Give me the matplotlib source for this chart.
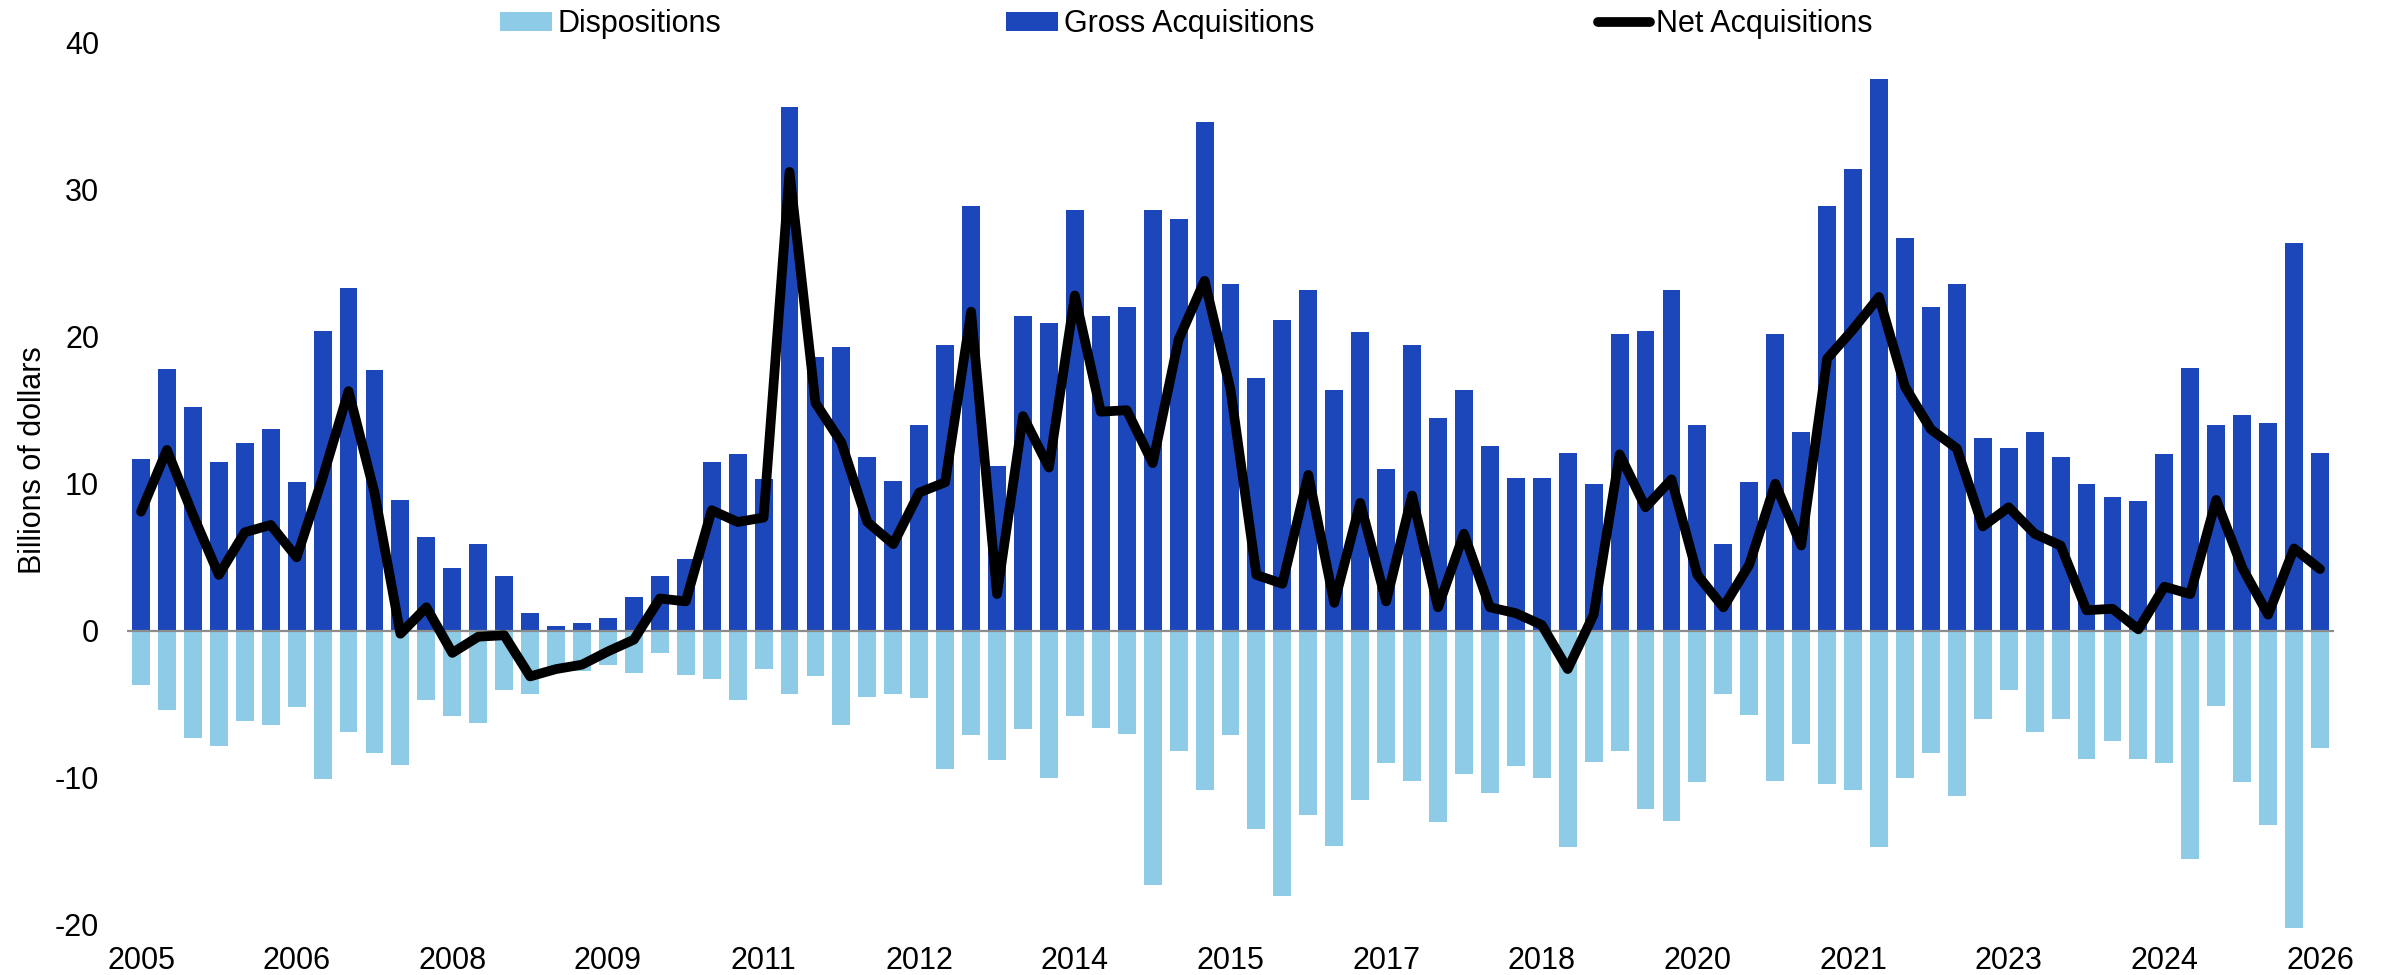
import matplotlib
matplotlib.use("Agg")
import matplotlib.pyplot as plt
import numpy as np

plt.rcParams['font.family'] = ['Liberation Sans', 'DejaVu Sans']

# Quarterly data, 2005Q1 .. 2026Q1 (billions of dollars)
gross = [11.7, 17.8, 15.2, 11.5, 12.8, 13.7, 10.1, 20.4, 23.3, 17.7, 8.9, 6.4, 4.3, 5.9, 3.7,
         1.2, 0.3, 0.5, 0.9, 2.3, 3.7, 4.9, 11.5, 12.0, 10.3, 35.6, 18.6, 19.3, 11.8, 10.2,
         14.0, 19.4, 28.9, 11.2, 21.4, 20.9, 28.6, 21.4, 22.0, 28.6, 28.0, 34.6, 23.6, 17.2, 21.1, 23.2,
         16.4, 20.3, 11.0, 19.4, 14.5, 16.4, 12.6, 10.4, 10.4, 12.1, 10.0, 20.2, 20.4, 23.2, 14.0,
         5.9, 10.1, 20.2, 13.5, 28.9, 31.4, 37.5, 26.7, 22.0, 23.6, 13.1, 12.4, 13.5, 11.8, 10.0, 9.1,
         8.8, 12.0, 17.9, 14.0, 14.7, 14.1, 26.4, 12.1]

dispositions = [-3.7, -5.4, -7.3, -7.8, -6.1, -6.4, -5.2, -10.1, -6.9, -8.3, -9.1, -4.7, -5.8, -6.3, -4.0,
                -4.3, -2.8, -2.7, -2.3, -2.9, -1.5, -3.0, -3.3, -4.7, -2.6, -4.3, -3.1, -6.4, -4.5, -4.3,
                -4.6, -9.4, -7.1, -8.8, -6.7, -10.0, -5.8, -6.6, -7.0, -17.3, -8.2, -10.8, -7.1, -13.5, -18.0, -12.5,
                -14.6, -11.5, -9.0, -10.2, -13.0, -9.7, -11.0, -9.2, -10.0, -14.7, -8.9, -8.2, -12.1, -12.9, -10.3,
                -4.3, -5.7, -10.2, -7.7, -10.4, -10.8, -14.7, -10.0, -8.3, -11.2, -6.0, -4.0, -6.9, -6.0, -8.7, -7.5,
                -8.7, -9.0, -15.5, -5.1, -10.3, -13.2, -20.2, -8.0]

net = [8.1, 12.3, 7.9, 3.8, 6.7, 7.2, 5.0, 10.4, 16.3, 9.4, -0.2, 1.6, -1.5, -0.4, -0.3,
       -3.1, -2.6, -2.3, -1.4, -0.6, 2.2, 2.0, 8.2, 7.4, 7.7, 31.2, 15.5, 12.8, 7.4, 5.9,
       9.4, 10.1, 21.7, 2.5, 14.6, 11.1, 22.8, 14.9, 15.0, 11.4, 19.8, 23.8, 16.4, 3.8, 3.2, 10.6,
       1.9, 8.7, 2.0, 9.2, 1.6, 6.6, 1.6, 1.2, 0.4, -2.6, 1.1, 12.0, 8.4, 10.3, 3.8,
       1.6, 4.5, 10.0, 5.8, 18.5, 20.5, 22.7, 16.6, 13.7, 12.4, 7.1, 8.4, 6.6, 5.8, 1.4, 1.5,
       0.1, 3.0, 2.5, 8.9, 4.3, 1.1, 5.6, 4.2]

tick_labels = ['2005', '2006', '2008', '2009', '2011', '2012', '2014', '2015',
               '2017', '2018', '2020', '2021', '2023', '2024', '2026']
y_ticks = [-20, -10, 0, 10, 20, 30, 40]

C_GROSS = '#1c47ba'
C_DISP = '#8ecbe7'

fig = plt.figure(figsize=(23.87, 9.75), dpi=100)
ax = fig.add_axes([127 / 2387, 1 - 925 / 975, (2334 - 127) / 2387, (925 - 42.5) / 975])

x = np.arange(len(gross))
bw = 0.69
b1 = ax.bar(x, dispositions, width=bw, color=C_DISP, zorder=1, clip_on=False, label='Dispositions')
b2 = ax.bar(x, gross, width=bw, color=C_GROSS, zorder=1, clip_on=False, label='Gross Acquisitions')
ax.axhline(0, color='#8c8c8c', lw=1.6, zorder=2)
ln, = ax.plot(x, net, color='black', lw=7, zorder=3, solid_capstyle='round',
              solid_joinstyle='round', label='Net Acquisitions')

ax.set_xlim(-0.54, len(gross) - 1 + 0.54)
ax.set_ylim(-20, 40)
ax.set_yticks(y_ticks)
ax.set_yticklabels([str(v) for v in y_ticks])
ax.set_xticks(x[::6])
ax.set_xticklabels(tick_labels)
ax.tick_params(axis='both', length=0, labelsize=22, colors='black')
ax.tick_params(axis='y', pad=20)
ax.tick_params(axis='x', pad=15)
for s in ax.spines.values():
    s.set_visible(False)

ax.set_ylabel('Billions of dollars', fontsize=22)
ax.yaxis.set_label_coords((48 - 127) / 2207, (925 - 460) / 882.5)

fig.legend(handles=[b1, b2, ln], labels=['Dispositions', 'Gross Acquisitions', 'Net Acquisitions'],
           loc='center', bbox_to_anchor=(0.497, 1 - 24 / 975), ncol=3, frameon=False,
           fontsize=22, handlelength=1.7, handleheight=0.56, handletextpad=0.2,
           columnspacing=9.3, borderpad=0, borderaxespad=0)

fig.savefig('out.png', dpi=100)
